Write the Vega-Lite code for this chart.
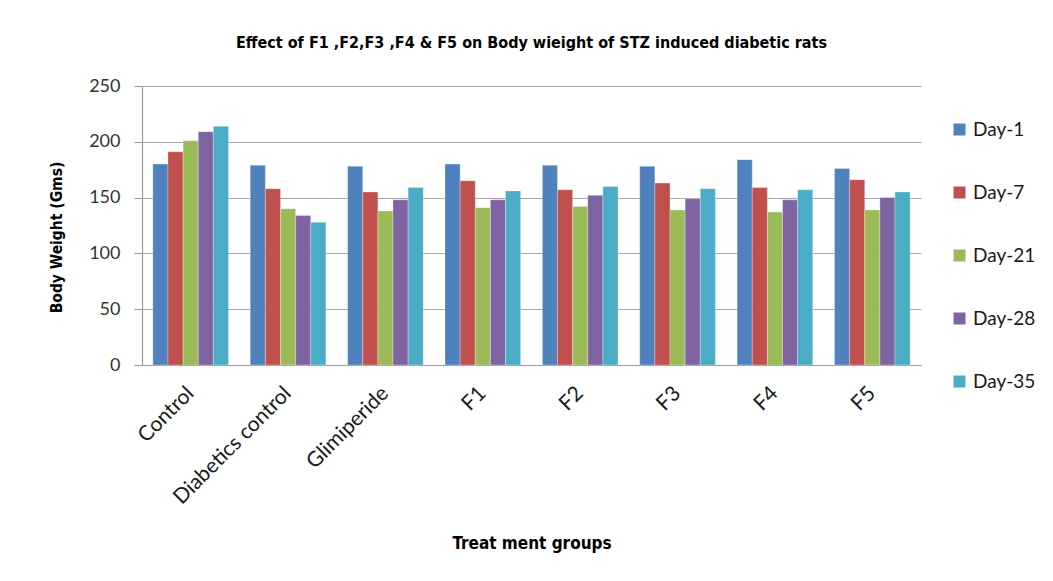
{
  "$schema": "https://vega.github.io/schema/vega-lite/v6.json",
  "width": 779,
  "height": 279,
  "autosize": {"type": "none"},
  "padding": {"left": 142, "top": 86, "right": 132, "bottom": 216},
  "background": "white",
  "title": {
    "text": "Effect of F1 ,F2,F3 ,F4 & F5 on Body wieight of STZ induced diabetic rats",
    "font": "DejaVu Sans Condensed",
    "fontSize": 16,
    "fontWeight": "bold",
    "color": "black",
    "anchor": "middle",
    "offset": 26
  },
  "data": {
    "values": [
      {"group": "Control", "day": "Day-1", "weight": 180},
      {"group": "Control", "day": "Day-7", "weight": 191},
      {"group": "Control", "day": "Day-21", "weight": 201},
      {"group": "Control", "day": "Day-28", "weight": 209},
      {"group": "Control", "day": "Day-35", "weight": 214},
      {"group": "Diabetics control", "day": "Day-1", "weight": 179},
      {"group": "Diabetics control", "day": "Day-7", "weight": 158},
      {"group": "Diabetics control", "day": "Day-21", "weight": 140},
      {"group": "Diabetics control", "day": "Day-28", "weight": 134},
      {"group": "Diabetics control", "day": "Day-35", "weight": 128},
      {"group": "Glimiperide", "day": "Day-1", "weight": 178},
      {"group": "Glimiperide", "day": "Day-7", "weight": 155},
      {"group": "Glimiperide", "day": "Day-21", "weight": 138},
      {"group": "Glimiperide", "day": "Day-28", "weight": 148},
      {"group": "Glimiperide", "day": "Day-35", "weight": 159},
      {"group": "F1", "day": "Day-1", "weight": 180},
      {"group": "F1", "day": "Day-7", "weight": 165},
      {"group": "F1", "day": "Day-21", "weight": 141},
      {"group": "F1", "day": "Day-28", "weight": 148},
      {"group": "F1", "day": "Day-35", "weight": 156},
      {"group": "F2", "day": "Day-1", "weight": 179},
      {"group": "F2", "day": "Day-7", "weight": 157},
      {"group": "F2", "day": "Day-21", "weight": 142},
      {"group": "F2", "day": "Day-28", "weight": 152},
      {"group": "F2", "day": "Day-35", "weight": 160},
      {"group": "F3", "day": "Day-1", "weight": 178},
      {"group": "F3", "day": "Day-7", "weight": 163},
      {"group": "F3", "day": "Day-21", "weight": 139},
      {"group": "F3", "day": "Day-28", "weight": 149},
      {"group": "F3", "day": "Day-35", "weight": 158},
      {"group": "F4", "day": "Day-1", "weight": 184},
      {"group": "F4", "day": "Day-7", "weight": 159},
      {"group": "F4", "day": "Day-21", "weight": 137},
      {"group": "F4", "day": "Day-28", "weight": 148},
      {"group": "F4", "day": "Day-35", "weight": 157},
      {"group": "F5", "day": "Day-1", "weight": 176},
      {"group": "F5", "day": "Day-7", "weight": 166},
      {"group": "F5", "day": "Day-21", "weight": 139},
      {"group": "F5", "day": "Day-28", "weight": 150},
      {"group": "F5", "day": "Day-35", "weight": 155}
    ]
  },
  "mark": {"type": "bar", "stroke": "white", "strokeOpacity": 0.5, "strokeWidth": 0.6},
  "encoding": {
    "x": {
      "field": "group",
      "type": "nominal",
      "sort": ["Control", "Diabetics control", "Glimiperide", "F1", "F2", "F3", "F4", "F5"],
      "scale": {"paddingInner": 0.223, "paddingOuter": 0.1115},
      "axis": {
        "title": "Treat ment groups",
        "titleFont": "DejaVu Sans Condensed",
        "titleFontSize": 17,
        "titleFontWeight": "bold",
        "titleColor": "black",
        "titlePadding": 28,
        "labelAngle": -45,
        "labelAlign": "right",
        "labelBaseline": "middle",
        "labelPadding": 25,
        "labelFont": "Lato",
        "labelFontSize": 21,
        "labelColor": "#1a1a1a",
        "ticks": false,
        "domainColor": "#9a9a9a",
        "domainWidth": 1.2
      }
    },
    "xOffset": {
      "field": "day",
      "type": "nominal",
      "sort": ["Day-1", "Day-7", "Day-21", "Day-28", "Day-35"],
      "scale": {"paddingInner": 0, "paddingOuter": 0}
    },
    "y": {
      "field": "weight",
      "type": "quantitative",
      "scale": {"domain": [0, 250], "nice": false},
      "axis": {
        "values": [0, 50, 100, 150, 200, 250],
        "title": "Body Weight (Gms)",
        "titleFont": "DejaVu Sans Condensed",
        "titleFontSize": 15.5,
        "titleFontWeight": "bold",
        "titleColor": "black",
        "titlePadding": 24,
        "titleY": 151,
        "labelFont": "Lato",
        "labelFontSize": 18,
        "labelColor": "#333333",
        "labelPadding": 14,
        "tickSize": 8,
        "tickColor": "#9a9a9a",
        "domainColor": "#9a9a9a",
        "domainWidth": 1.2,
        "gridColor": "#a8a8a8",
        "gridWidth": 1.1
      }
    },
    "color": {
      "field": "day",
      "type": "nominal",
      "scale": {
        "domain": ["Day-1", "Day-7", "Day-21", "Day-28", "Day-35"],
        "range": ["#4F81BD", "#C0504D", "#9BBB59", "#8064A2", "#4BACC6"]
      },
      "legend": {
        "title": null,
        "orient": "none",
        "legendX": 808,
        "legendY": 34,
        "symbolType": "square",
        "symbolSize": 144,
        "symbolStrokeWidth": 0,
        "labelFont": "Lato",
        "labelFontSize": 19,
        "labelColor": "#1a1a1a",
        "labelOffset": 4,
        "rowPadding": 43
      }
    }
  },
  "config": {"view": {"stroke": null}}
}
